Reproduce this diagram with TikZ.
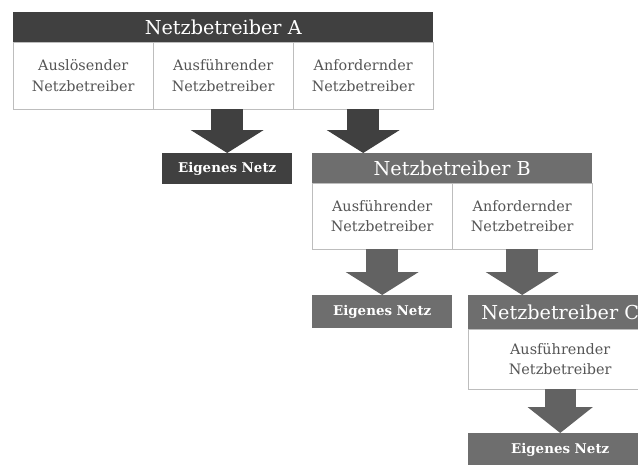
\documentclass[tikz,border=0pt]{standalone}
\usepackage{fontspec}
\setmainfont{DejaVu Serif}
\usetikzlibrary{arrows.meta}
\definecolor{darkg}{HTML}{404040}
\definecolor{midg}{HTML}{6E6E6E}
\definecolor{arrmid}{HTML}{626262}
\definecolor{lineg}{HTML}{BDBDBD}
\definecolor{textg}{HTML}{555555}
\tikzset{
  hdr/.style={anchor=north west, inner sep=0pt, minimum height=30pt, fill=#1, text=white,
    font=\fontsize{19.2}{22}\selectfont},
  cellbox/.style={anchor=north west, inner sep=0pt, minimum width=140pt, minimum height=67pt,
    draw=lineg, fill=white, text=textg, align=center, font=\fontsize{14.4}{20.5}\selectfont},
  netzbox/.style={anchor=north west, inner sep=0pt, minimum height=31pt, fill=#1, text=white,
    font=\bfseries\fontsize{13.4}{15}\selectfont},
  bigarrow/.style={line width=32pt, draw=#1, -{Triangle[width=72pt,length=23pt]}}
}
\begin{document}
\begin{tikzpicture}[x=1pt,y=-1pt]
\useasboundingbox (0,0) rectangle (638,464);
% Block A
\node[hdr=darkg, minimum width=420pt] (hA) at (13,12) {Netzbetreiber A};
\node[cellbox] (a1) at (13,42) {Auslösender\\Netzbetreiber};
\node[cellbox] (a2) at (153,42) {Ausführender\\Netzbetreiber};
\node[cellbox] (a3) at (293,42) {Anfordernder\\Netzbetreiber};
\node[netzbox=darkg, minimum width=130pt] (enA) at (162,153) {Eigenes Netz};
% Block B
\node[hdr=midg, minimum width=280pt] (hB) at (312,153) {Netzbetreiber B};
\node[cellbox, minimum height=66pt] (b1) at (312,183) {Ausführender\\Netzbetreiber};
\node[cellbox, minimum height=66pt] (b2) at (452,183) {Anfordernder\\Netzbetreiber};
\node[netzbox=midg, minimum width=140pt, minimum height=33pt] (enB) at (312,295) {Eigenes Netz};
% Block C
\node[hdr=midg, minimum width=184pt, minimum height=34pt] (hC) at (468,295) {Netzbetreiber C};
\node[cellbox, minimum width=184pt, minimum height=60pt] (c1) at (468,329) {Ausführender\\Netzbetreiber};
\node[netzbox=midg, minimum width=184pt, minimum height=33pt] (enC) at (468,433) {Eigenes Netz};
% Arrows
\draw[bigarrow=darkg] (a2.south -| enA.north) -- (enA.north);
\draw[bigarrow=darkg] (a3.south) -- (a3.south |- hB.north);
\draw[bigarrow=arrmid] (b1.south) -- (enB.north);
\draw[bigarrow=arrmid] (b2.south) -- (b2.south |- hC.north);
\draw[bigarrow=arrmid, line width=31pt, -{Triangle[width=64pt,length=26pt]}] (c1.south) -- (enC.north);
\end{tikzpicture}
\end{document}
